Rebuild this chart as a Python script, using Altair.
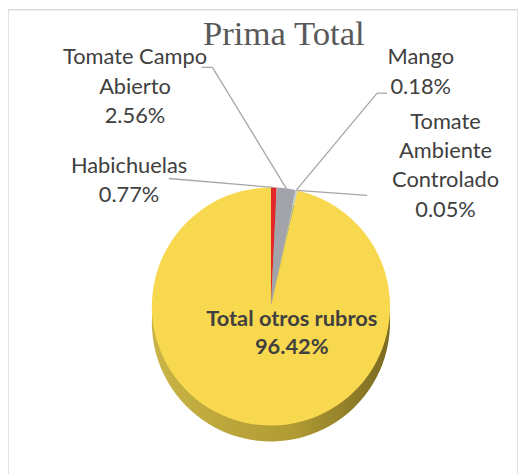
import math
import altair as alt
import pandas as pd

# ---- data ----
rubros = ["Habichuelas", "Tomate Campo Abierto", "Mango",
          "Tomate Ambiente Controlado", "Total otros rubros"]
porcentajes = [0.77, 2.56, 0.18, 0.05, 96.42]
etiquetas = ["Habichuelas\n0.77%", "Tomate Campo\nAbierto\n2.56%", "Mango\n0.18%",
             "Tomate\nAmbiente\nControlado\n0.05%", "Total otros rubros\n96.42%"]
colores = ["#E3262B", "#A3A3AB", "#C8C8C8", "#4BC4D6", "#F8D84E"]
titulo = "Prima Total"

df = pd.DataFrame({"rubro": rubros, "pct": porcentajes,
                   "etiqueta": etiquetas, "orden": list(range(len(rubros)))})

# ---- layout (chart coordinates = page coordinates - 8) ----
OFF = 8
CX, CY, R, DEPTH = 273 - OFF, 307 - OFF, 120, 16


def edge(i):
    tot = sum(porcentajes)
    start = sum(porcentajes[:i]) / tot
    mid = start + porcentajes[i] / tot / 2
    a = 2 * math.pi * mid
    return CX + R * math.sin(a), CY - R * math.cos(a)


def p(x, y):
    return x - OFF, y - OFF


e_hab, e_cam, e_man, e_amb = edge(0), edge(1), edge(2), edge(3)
segs = [
    (p(170, 178), e_hab),
    (p(203, 66), p(214, 66)), (p(214, 66), e_cam),
    (p(390, 92), p(380, 92)), (p(380, 92), e_man),
    (e_amb, p(370, 195)),
]
guias = pd.DataFrame({
    "x": [s[0][0] for s in segs], "y": [s[0][1] for s in segs],
    "x2": [s[1][0] for s in segs], "y2": [s[1][1] for s in segs],
})

pos_etiquetas = {
    "Habichuelas": p(130, 172),
    "Tomate Campo Abierto": p(136, 63),
    "Mango": p(424, 63),
    "Tomate Ambiente Controlado": p(449, 128),
}
lab = df[df["rubro"].isin(pos_etiquetas)].copy()
lab["x"] = [pos_etiquetas[r][0] for r in lab["rubro"]]
lab["y"] = [pos_etiquetas[r][1] for r in lab["rubro"]]

base = alt.Chart(df)
theta = alt.Theta("pct:Q", stack=True)
order = alt.Order("orden:Q")

lado = base.mark_arc(
    radius=R,
    fill=alt.Gradient(gradient="linear",
                      stops=[alt.GradientStop(color="#C9B445", offset=0),
                             alt.GradientStop(color="#B09A33", offset=0.6),
                             alt.GradientStop(color="#7A6A22", offset=1)],
                      x1=0, x2=1, y1=0, y2=0),
).encode(theta=theta, order=order, x=alt.value(CX), y=alt.value(CY + DEPTH))

cara = base.mark_arc(radius=R).encode(
    theta=theta, order=order,
    color=alt.Color("rubro:N", scale=alt.Scale(domain=rubros, range=colores), legend=None),
    x=alt.value(CX), y=alt.value(CY),
)

lineas = alt.Chart(guias).mark_rule(color="#A6A6A6", strokeWidth=1.3).encode(
    x=alt.X("x:Q", scale=None), y=alt.Y("y:Q", scale=None),
    x2="x2:Q", y2="y2:Q",
)

textos = alt.Chart(lab).mark_text(
    font="Lato", fontSize=22, color="#404040", align="center",
    baseline="alphabetic", lineBreak="\n", lineHeight=29.5,
).encode(x=alt.X("x:Q", scale=None), y=alt.Y("y:Q", scale=None), text="etiqueta:N")

tx, ty = p(294, 327)
principal = base.transform_filter(alt.datum.rubro == "Total otros rubros").mark_text(
    font="Lato", fontSize=22, fontWeight="bold", color="#404040", align="center",
    baseline="alphabetic", lineBreak="\n", lineHeight=28,
).encode(x=alt.value(tx), y=alt.value(ty), text="etiqueta:N")

ttx, tty = p(286, 43)
tit = alt.Chart(pd.DataFrame({"t": [titulo]})).mark_text(
    font="Liberation Serif", fontSize=35, color="#595959", align="center",
    baseline="alphabetic",
).encode(x=alt.value(ttx), y=alt.value(tty), text="t:N")

chart = alt.layer(lado, cara, lineas, textos, principal, tit).properties(
    width=514, height=470, padding=0, background="white",
).configure_view(stroke="#D9D9D9", strokeWidth=1.5)

chart.save("out.html", embed_options={"renderer": "svg", "actions": False})
